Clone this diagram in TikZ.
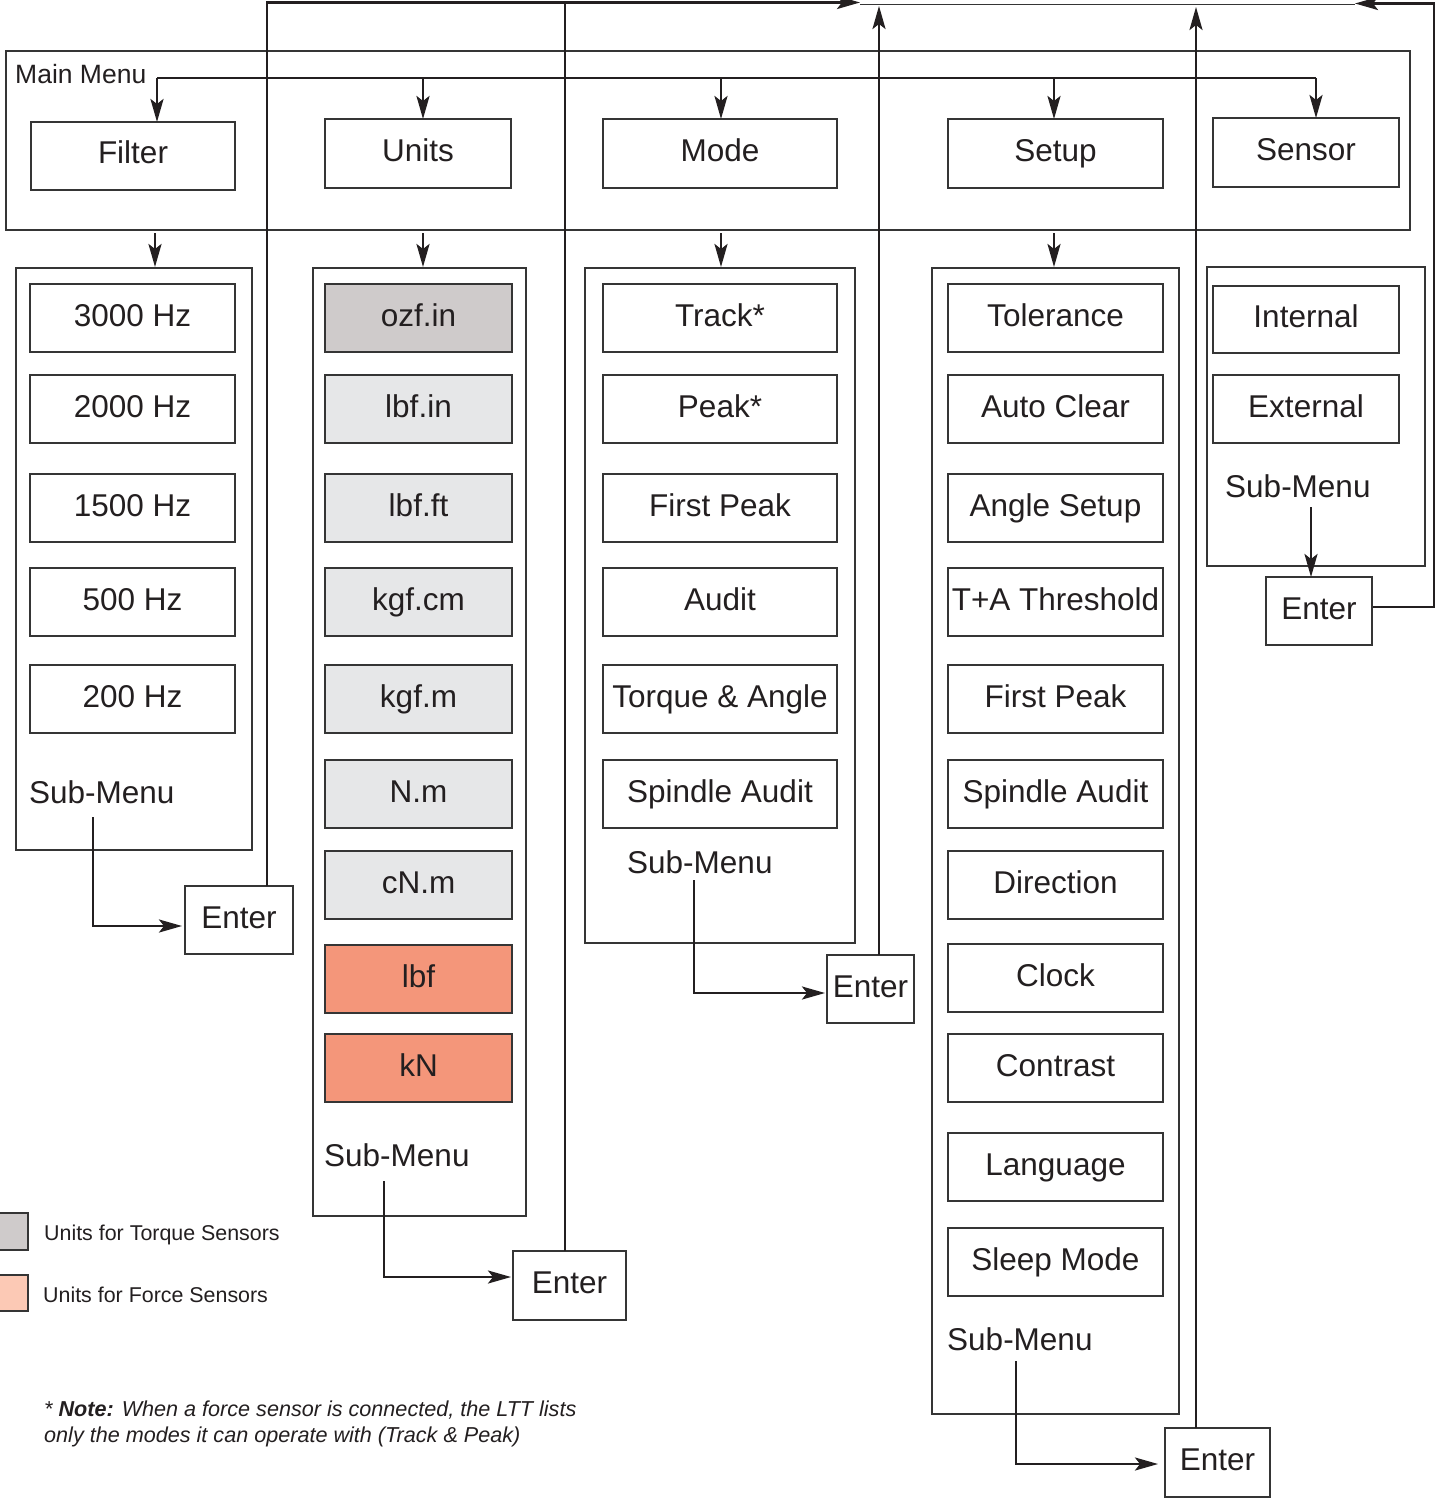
\documentclass[tikz,border=0pt]{standalone}
\usepackage{fontspec}
\setmainfont{Liberation Sans}
\usetikzlibrary{arrows.meta,calc}
\definecolor{ink}{HTML}{231F20}
\definecolor{bord}{HTML}{353535}
\definecolor{torq}{HTML}{CFCBCB}
\definecolor{ltgray}{HTML}{E6E7E8}
\definecolor{salmon}{HTML}{F4967A}
\definecolor{pinklg}{HTML}{FCC9B5}
\newcommand\boxnode[7]{\node[#6, minimum width={(#4)-(#2)}, minimum height={(#5)-(#3)}] (#1) at ({((#2)+(#4))/2},{((#3)+(#5))/2}) {#7};}
\begin{document}
\begin{tikzpicture}[x=1pt,y=-1pt,
  item/.style={draw=bord, line width=1.4pt, inner sep=0pt, outer sep=0pt,
    font=\fontsize{31.5}{37}\selectfont, text=ink, text height=22pt, text depth=6pt},
  cont/.style={draw=bord, line width=1.4pt, inner sep=0pt, outer sep=0pt},
  lbl/.style={anchor=base west, inner sep=0pt, text=ink, font=\fontsize{31.5}{37}\selectfont},
  small/.style={anchor=base west, inner sep=0pt, text=ink, font=\fontsize{21.4}{26}\selectfont},
  conn/.style={draw=ink, line width=2.6pt, line join=miter},
  arr/.style={conn, -{Stealth[length=23pt,width=13pt,inset=5pt]}}]
\useasboundingbox (0,0) rectangle (1440,1501);
\fill[white] (0,0) rectangle (1440,1501);

% top receiving edge
\coordinate (topLin) at (860,2.5);
\coordinate (topRin) at (1355,3.5);
\coordinate (topL) at (860,4.5);
\coordinate (topR) at (1355,4.5);
\draw[bord, line width=1.4pt] (topL) -- (topR);

% main menu
\boxnode{mainbox}{6}{51}{1410}{230}{cont}{}
\node[anchor=base west, inner sep=0pt, text=ink, font=\fontsize{26.5}{31}\selectfont] (mmlabel) at (15,84) {Main Menu};
\boxnode{filter}{31}{122}{235}{190}{item}{Filter}
\boxnode{units}{325}{119}{511}{188}{item}{Units}
\boxnode{mode}{603}{119}{837}{188}{item}{Mode}
\boxnode{setup}{948}{119}{1163}{188}{item}{Setup}
\boxnode{sensor}{1213}{118}{1399}{187}{item}{Sensor}

% sub-menu containers
\boxnode{fsub}{16}{268}{252}{850}{cont}{}
\boxnode{usub}{313}{268}{526}{1216}{cont}{}
\boxnode{msub}{585}{268}{855}{943}{cont}{}
\boxnode{ssub}{932}{268}{1179}{1414}{cont}{}
\boxnode{nsub}{1207}{267}{1425}{566}{cont}{}

% filter items
\boxnode{f1}{30}{284}{235}{352}{item}{3000 Hz}
\boxnode{f2}{30}{375}{235}{443}{item}{2000 Hz}
\boxnode{f3}{30}{474}{235}{542}{item}{1500 Hz}
\boxnode{f4}{30}{568}{235}{636}{item}{500 Hz}
\boxnode{f5}{30}{665}{235}{733}{item}{200 Hz}
\node[lbl] (fsm) at (29,803) {Sub-Menu};

% units items
\boxnode{u1}{325}{284}{512}{352}{item, fill=torq}{ozf.in}
\boxnode{u2}{325}{375}{512}{443}{item, fill=ltgray}{lbf.in}
\boxnode{u3}{325}{474}{512}{542}{item, fill=ltgray}{lbf.ft}
\boxnode{u4}{325}{568}{512}{636}{item, fill=ltgray}{kgf.cm}
\boxnode{u5}{325}{665}{512}{733}{item, fill=ltgray}{kgf.m}
\boxnode{u6}{325}{760}{512}{828}{item, fill=ltgray}{N.m}
\boxnode{u7}{325}{851}{512}{919}{item, fill=ltgray}{cN.m}
\boxnode{u8}{325}{945}{512}{1013}{item, fill=salmon}{lbf}
\boxnode{u9}{325}{1034}{512}{1102}{item, fill=salmon}{kN}
\node[lbl] (usm) at (324,1166) {Sub-Menu};

% mode items
\boxnode{m1}{603}{284}{837}{352}{item}{Track*}
\boxnode{m2}{603}{375}{837}{443}{item}{Peak*}
\boxnode{m3}{603}{474}{837}{542}{item}{First Peak}
\boxnode{m4}{603}{568}{837}{636}{item}{Audit}
\boxnode{m5}{603}{665}{837}{733}{item}{Torque \& Angle}
\boxnode{m6}{603}{760}{837}{828}{item}{Spindle Audit}
\node[lbl] (msm) at (627,873) {Sub-Menu};

% setup items
\boxnode{s1}{948}{284}{1163}{352}{item}{Tolerance}
\boxnode{s2}{948}{375}{1163}{443}{item}{Auto Clear}
\boxnode{s3}{948}{474}{1163}{542}{item}{Angle Setup}
\boxnode{s4}{948}{568}{1163}{636}{item}{T+A Threshold}
\boxnode{s5}{948}{665}{1163}{733}{item}{First Peak}
\boxnode{s6}{948}{760}{1163}{828}{item}{Spindle Audit}
\boxnode{s7}{948}{851}{1163}{919}{item}{Direction}
\boxnode{s8}{948}{944}{1163}{1012}{item}{Clock}
\boxnode{s9}{948}{1034}{1163}{1102}{item}{Contrast}
\boxnode{s10}{948}{1133}{1163}{1201}{item}{Language}
\boxnode{s11}{948}{1228}{1163}{1296}{item}{Sleep Mode}
\node[lbl] (ssm) at (947,1350) {Sub-Menu};

% sensor items
\boxnode{n1}{1213}{286}{1399}{353}{item}{Internal}
\boxnode{n2}{1213}{375}{1399}{443}{item}{External}
\node[lbl] (nsm) at (1225,497) {Sub-Menu};

% enter boxes
\boxnode{fEnter}{185}{886}{293}{954}{item}{Enter}
\boxnode{uEnter}{513}{1251}{626}{1320}{item}{Enter}
\boxnode{mEnter}{827}{955}{914}{1023}{item}{Enter}
\boxnode{sEnter}{1165}{1428}{1270}{1497}{item}{Enter}
\boxnode{nEnter}{1266}{577}{1372}{645}{item}{Enter}

% distribution from main menu
\coordinate (dl) at (157,78);
\coordinate (dr) at (1316,78);
\draw[conn] (dl) -- (dr);
\draw[arr] (dl) -- (filter.north -| dl);
\draw[arr] ($(units.north)+(5,-41)$) -- ($(units.north)+(5,0)$);
\draw[arr] ($(mode.north)+(1,-41)$) -- ($(mode.north)+(1,0)$);
\draw[arr] ($(setup.north)+(-1.5,-41)$) -- ($(setup.north)+(-1.5,0)$);
\draw[arr] (dr) -- (sensor.north -| dr);

% from main menu to sub-menus
\coordinate (fa) at (155,268);
\coordinate (ua) at (423,268);
\coordinate (ma) at (721,268);
\coordinate (sa) at (1054,268);
\draw[arr, shorten <=3pt, shorten >=1pt] (mainbox.south -| fa) -- (fa);
\draw[arr, shorten <=3pt, shorten >=1pt] (mainbox.south -| ua) -- (ua);
\draw[arr, shorten <=3pt, shorten >=1pt] (mainbox.south -| ma) -- (ma);
\draw[arr, shorten <=3pt, shorten >=1pt] (mainbox.south -| sa) -- (sa);

% sub-menu to enter
\coordinate (fs) at (93,817);
\coordinate (us) at (384,1181);
\coordinate (ms) at (694,880);
\coordinate (ss) at (1016,1361);
\coordinate (ns) at (1311,507);
\draw[arr, shorten >=3pt] (fs) |- ($(fEnter.west)+(0,6)$);
\draw[arr, shorten >=2pt] (us) |- ($(uEnter.west)+(0,-8.5)$);
\draw[arr, shorten >=2pt] (ms) |- ($(mEnter.west)+(0,4)$);
\draw[arr, shorten >=7pt] (ss) |- ($(sEnter.west)+(0,1.5)$);
\draw[arr] (ns) -- (nEnter.north -| ns);

% enter back to top
\coordinate (fup) at (267,2.5);
\coordinate (uup) at (565,2.5);
\coordinate (mup) at (879,6);
\coordinate (sUp) at (1196,7);
\coordinate (rc) at (1434,3.5);
\draw[arr] (fEnter.north -| fup) -- (fup) -- (topLin);
\draw[conn] (uEnter.north -| uup) -- (uup);
\draw[arr] (mEnter.north -| mup) -- (mup);
\draw[arr] (sEnter.north -| sUp) -- (sUp);
\draw[arr] ($(nEnter.east)+(1,-4)$) -| (rc) -- (topRin);

% legend
\boxnode{lgT}{-4}{1213}{28}{1250}{cont, fill=torq}{}
\boxnode{lgF}{-4}{1275}{28}{1311}{cont, fill=pinklg}{}
\node[small] (lgTt) at (44,1240) {Units for Torque Sensors};
\node[small] (lgFt) at (43,1302) {Units for Force Sensors};

% note
\node[small, font=\fontsize{21.6}{26}\selectfont\itshape] (note1) at (44,1416) {* \textbf{Note:} When a force sensor is connected, the LTT lists};
\node[small, font=\fontsize{21.6}{26}\selectfont\itshape] (note2) at (44,1442) {only the modes it can operate with (Track \& Peak)};
\end{tikzpicture}
\end{document}
